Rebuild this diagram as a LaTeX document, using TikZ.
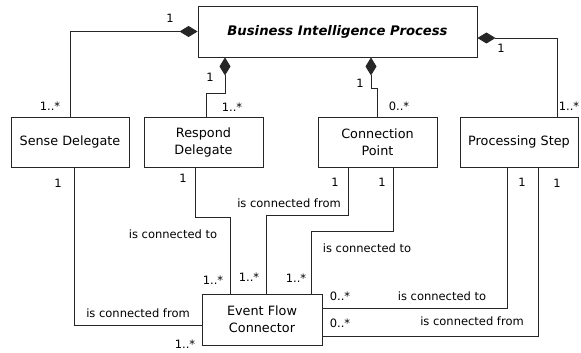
\documentclass[tikz,border=0pt]{standalone}
\usepackage{fontspec}
\setmainfont{DejaVu Sans}
\usetikzlibrary{arrows.meta}
\begin{document}
\begin{tikzpicture}[x=1pt,y=-1pt,
  box/.style={draw=black!85, line width=0.9pt, fill=white, minimum height=50pt,
    align=center, inner sep=0pt, font=\fontsize{12.8}{17}\selectfont},
  lbl/.style={inner sep=0pt, font=\fontsize{11.5}{13}\selectfont},
  link/.style={draw=black!85, line width=0.9pt},
  comp/.style={link, {Diamond[length=18pt,width=11pt]}-}]
\useasboundingbox[fill=white] (0,0) rectangle (581,353);

% classes
\node[box, minimum width=279pt, minimum height=51pt, font=\fontsize{13.2}{15}\selectfont\bfseries\itshape]
  (bip) at (337.5,31.5) {Business Intelligence Process};
\node[box, minimum width=118pt] (sense)   at (70,142)    {Sense Delegate};
\node[box, minimum width=119pt] (respond) at (203.5,142) {Respond\\Delegate};
\node[box, minimum width=119pt] (cp)      at (377.5,142) {Connection\\Point};
\node[box, minimum width=118pt] (ps)      at (519,142)   {Processing Step};
\node[box, minimum width=120pt, minimum height=51pt] (efc) at (262,319.5) {Event Flow\\Connector};

% compositions
\draw[comp] (bip.west) -| (sense.north);
\draw[comp] ([xshift=-112.5pt]bip.south) -- ++(0,36) -| ([xshift=3pt]respond.north);
\draw[comp] ([xshift=33.5pt]bip.south) -- ++(0,31) -| (cp.north);
\draw[comp] ([yshift=-6.5pt]bip.east) -| ([xshift=38pt]ps.north);

% associations with the event flow connector
\draw[link] ([xshift=4pt]sense.south) |- ([yshift=-5.5pt]efc.west);
\draw[link] ([xshift=-8.5pt]respond.south) -- ++(0,50) -| ([xshift=-32pt]efc.north);
\draw[link] ([xshift=-29.5pt]cp.south) -- ++(0,48) -| ([xshift=4pt]efc.north);
\draw[link] ([xshift=15.5pt]cp.south) -- ++(0,64) -| ([xshift=49pt]efc.north);
\draw[link] ([xshift=-12pt]ps.south) |- ([yshift=11.5pt]efc.east);
\draw[link] ([xshift=19pt]ps.south) |- ([yshift=-16.5pt]efc.east);

% multiplicities
\node[lbl] (m1)  at (170,18)  {1};
\node[lbl] (m2)  at (50,106)  {1..*};
\node[lbl] (m3)  at (210,77)  {1};
\node[lbl] (m4)  at (232,107) {1..*};
\node[lbl] (m5)  at (360,83)  {1};
\node[lbl] (m6)  at (399,106) {0..*};
\node[lbl] (m7)  at (501,48)  {1};
\node[lbl] (m8)  at (569,106) {1..*};
\node[lbl] (m9)  at (58,183)  {1};
\node[lbl] (m10) at (183,178) {1};
\node[lbl] (m11) at (335,182) {1};
\node[lbl] (m12) at (382,182) {1};
\node[lbl] (m13) at (522,182) {1};
\node[lbl] (m14) at (557,183) {1};
\node[lbl] (m15) at (213,280) {1..*};
\node[lbl] (m16) at (249,277) {1..*};
\node[lbl] (m17) at (296,278) {1..*};
\node[lbl] (m18) at (185,344) {1..*};
\node[lbl] (m19) at (340,296) {0..*};
\node[lbl] (m20) at (340,323) {0..*};

% association names
\node[lbl] (a1) at (173,234) {is connected to};
\node[lbl] (a2) at (289,203) {is connected from};
\node[lbl] (a3) at (367,248) {is connected to};
\node[lbl] (a4) at (138,313) {is connected from};
\node[lbl] (a5) at (442,296) {is connected to};
\node[lbl] (a6) at (472,321) {is connected from};
\end{tikzpicture}
\end{document}
